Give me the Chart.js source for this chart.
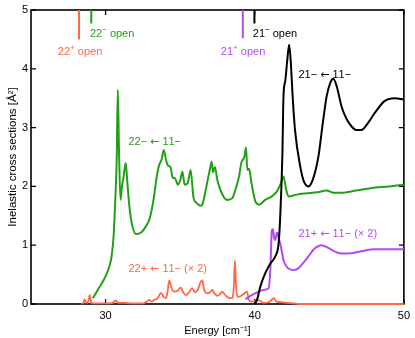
<!DOCTYPE html>
<html>
<head>
    <title>Inelastic cross sections</title>
    <style>
        body { margin: 0; background: #fff; }
        canvas { display: block; }
    </style>
    <script src="https://cdn.jsdelivr.net/npm/chart.js"></script>
</head>
<body>
<canvas id="xsChart" width="415" height="338"></canvas>
<script>
// energy axis ticks [cm^-1] and cross-section ticks [A^2]
const xTicks = [30, 40, 50];
const yTicks = [0, 1, 2, 3, 4, 5];

// 22- <- 11-
const e22m = [29.15, 29.5, 29.9, 30.2, 30.4, 30.55, 30.62, 30.68, 30.75, 30.82, 30.9, 31.0, 31.1, 31.2, 31.35, 31.45, 31.6, 31.8, 32.05, 32.4, 32.7, 32.95, 33.2, 33.45, 33.6, 33.75, 33.9, 34.05, 34.2, 34.35, 34.5, 34.65, 34.85, 35.0, 35.15, 35.3, 35.5, 35.7, 35.9, 36.1, 36.38, 36.5, 36.8, 37.0, 37.11, 37.2, 37.33, 37.5, 37.8, 38.15, 38.5, 38.7, 38.95, 39.1, 39.3, 39.42, 39.5, 39.62, 39.78, 40.05, 40.3, 40.7, 41.15, 41.5, 41.75, 41.93, 42.1, 42.27, 42.8, 43.4, 44.2, 44.8, 45.3, 45.8, 46.8, 47.8, 49.0, 50.0];
const s22m = [0.1, 0.25, 0.42, 0.6, 0.8, 1.2, 1.6, 1.95, 2.5, 3.64, 2.6, 1.77, 2.0, 2.15, 2.4, 2.1, 1.65, 1.32, 1.19, 1.22, 1.32, 1.45, 1.75, 2.2, 2.37, 2.45, 2.62, 2.45, 2.35, 2.33, 2.15, 2.14, 2.03, 2.1, 2.25, 2.03, 2.05, 2.28, 1.8, 1.72, 1.67, 1.7, 2.05, 2.3, 2.42, 2.24, 2.33, 2.1, 1.88, 1.77, 1.8, 1.94, 2.17, 2.4, 2.5, 2.66, 2.28, 2.3, 2.06, 1.74, 1.69, 1.77, 1.83, 1.92, 2.05, 2.17, 1.95, 1.83, 1.86, 1.88, 1.9, 1.93, 1.89, 1.89, 1.93, 1.97, 2.0, 2.03];

// 21- <- 11-
const e21m = [40.0, 40.15, 40.38, 40.7, 41.05, 41.38, 41.6, 41.71, 41.85, 41.93, 42.05, 42.2, 42.31, 42.42, 42.55, 42.7, 43.05, 43.3, 43.6, 43.9, 44.27, 44.55, 44.82, 45.05, 45.27, 45.5, 45.82, 46.15, 46.49, 46.8, 47.15, 47.6, 48.05, 48.7, 49.38, 50.0];
const s21m = [0, 0.07, 0.3, 0.52, 0.69, 0.81, 1.03, 1.49, 2.5, 3.55, 3.8, 4.2, 4.41, 4.1, 3.5, 2.96, 2.34, 2.08, 2.0, 2.12, 2.51, 3.05, 3.53, 3.75, 3.83, 3.7, 3.36, 3.15, 3.02, 2.96, 2.96, 3.08, 3.25, 3.45, 3.5, 3.48];

// 21+ <- 11- (x 2)
const e21p = [39.38, 39.8, 40.27, 40.6, 40.93, 41.05, 41.15, 41.22, 41.3, 41.38, 41.47, 41.53, 41.62, 41.71, 41.93, 42.15, 42.38, 42.65, 42.93, 43.25, 43.6, 44.0, 44.49, 44.9, 45.38, 45.8, 46.27, 47.0, 48.05, 49.0, 50.0];
const s21p = [0.08, 0.15, 0.21, 0.24, 0.27, 0.6, 1.26, 1.27, 1.12, 1.09, 1.2, 1.21, 1.1, 1.03, 0.75, 0.63, 0.59, 0.58, 0.61, 0.7, 0.81, 0.94, 1.0, 0.96, 0.89, 0.86, 0.86, 0.89, 0.93, 0.93, 0.93];

// 22+ <- 11- (x 2)
const e22p = [28.38, 28.5, 28.6, 28.7, 28.85, 28.93, 29.05, 29.4, 30.0, 30.5, 30.67, 30.85, 31.3, 31.8, 32.5, 32.75, 32.93, 33.1, 33.27, 33.5, 33.71, 33.9, 34.04, 34.15, 34.27, 34.45, 34.6, 34.8, 35.04, 35.2, 35.38, 35.6, 35.8, 36.0, 36.2, 36.38, 36.49, 36.6, 36.82, 37.0, 37.15, 37.3, 37.49, 37.65, 37.8, 38.0, 38.15, 38.35, 38.5, 38.6, 38.67, 38.75, 38.85, 39.1, 39.3, 39.49, 39.6, 39.8, 40.0, 40.3, 40.6, 40.9, 41.1, 41.27, 41.45, 41.8, 42.2, 42.6, 43.0, 44.0, 45.0, 50.0];
const s22p = [0, 0.02, 0.08, 0.02, 0.05, 0.15, 0.02, 0.01, 0.01, 0.02, 0.06, 0.02, 0.02, 0.01, 0.01, 0.04, 0.07, 0.04, 0.07, 0.1, 0.19, 0.12, 0.1, 0.2, 0.4, 0.25, 0.21, 0.22, 0.28, 0.2, 0.15, 0.2, 0.27, 0.2, 0.25, 0.38, 0.4, 0.25, 0.18, 0.2, 0.24, 0.18, 0.14, 0.16, 0.21, 0.16, 0.12, 0.1, 0.1, 0.3, 0.74, 0.3, 0.12, 0.14, 0.18, 0.21, 0.07, 0.04, 0.05, 0.06, 0.02, 0.03, 0.06, 0.1, 0.04, 0.03, 0.02, 0.01, 0, 0, 0, 0];

// channel thresholds ("open" markers): energy and lower end of the marker
const openE = [28.22, 29.04, 39.2, 39.98];
const openLow = [4.5, 4.77, 4.52, 4.77];

const GREEN = '#22a015', BLACK = '#000000', PURPLE = '#b548f2', ORANGE = '#ff6644';
const openColors = [ORANGE, GREEN, PURPLE, BLACK];

const pts = (xs, ys) => xs.map((x, i) => ({x: x, y: ys[i]}));

function curve(xs, ys, color, order, width) {
    return {
        data: pts(xs, ys), borderColor: color, borderWidth: width || 2,
        pointRadius: 0, showLine: true, fill: false,
        cubicInterpolationMode: 'monotone', clip: false, order: order
    };
}

const datasets = [
    curve(e21m, s21m, BLACK, 0),
    curve(e21p, s21p, PURPLE, 1),
    curve(e22m, s22m, GREEN, 2),
    curve(e22p, s22p, ORANGE, 3, 1.8)
];
openE.forEach((e, i) => {
    datasets.push({
        data: [{x: e, y: 5}, {x: e, y: openLow[i]}],
        borderColor: openColors[i], borderWidth: 2, pointRadius: 0,
        showLine: true, clip: false, order: 4
    });
});

// text annotations, placed in data coordinates (left edge, vertical centre)
// "^x" marks a one-character superscript
const notes = [
    {e: 28.95, v: 4.6, t: '22^\u2212 open', c: GREEN},
    {e: 26.8, v: 4.29, t: '22^+ open', c: ORANGE},
    {e: 37.73, v: 4.29, t: '21^+ open', c: PURPLE},
    {e: 39.87, v: 4.6, t: '21^\u2212 open', c: BLACK},
    {e: 42.93, v: 3.9, t: '21\u2212 \u2190 11\u2212', c: BLACK},
    {e: 31.53, v: 2.75, t: '22\u2212 \u2190 11\u2212', c: GREEN},
    {e: 31.53, v: 0.59, t: '22+ \u2190 11\u2212 (\u00D7 2)', c: ORANGE},
    {e: 42.93, v: 1.19, t: '21+ \u2190 11\u2212 (\u00D7 2)', c: PURPLE}
];

const FONT = '"Liberation Sans", Arial, Helvetica, sans-serif';

// draw a label piece by piece: superscripts smaller and raised, arrow from DejaVu
function drawRich(ctx, text, x, y) {
    let i = 0;
    while (i < text.length) {
        let ch = text[i], font = '11px ' + FONT, dy = 0;
        if (ch === '^') {
            ch = text[i + 1]; i++;
            font = '8px ' + FONT; dy = -4;
        } else if (ch === '\u2190') {
            font = '11px "DejaVu Sans"';
        }
        ctx.font = font;
        ctx.fillText(ch, x, y + dy);
        x += ctx.measureText(ch).width;
        i++;
    }
}

const framePlugin = {
    id: 'frame',
    beforeDatasetsDraw(chart) {
        const {ctx, chartArea: a, scales: {x, y}} = chart;
        ctx.save();
        ctx.strokeStyle = '#000';
        ctx.lineWidth = 1.6;
        ctx.strokeRect(a.left, a.top, a.right - a.left, a.bottom - a.top);
        ctx.lineWidth = 1.3;
        ctx.beginPath();
        xTicks.forEach(v => {
            const px = x.getPixelForValue(v);
            ctx.moveTo(px, a.bottom); ctx.lineTo(px, a.bottom - 5);
            ctx.moveTo(px, a.top); ctx.lineTo(px, a.top + 5);
        });
        yTicks.forEach(v => {
            const py = y.getPixelForValue(v);
            ctx.moveTo(a.left, py); ctx.lineTo(a.left + 5, py);
            ctx.moveTo(a.right, py); ctx.lineTo(a.right - 5, py);
        });
        ctx.stroke();
        ctx.restore();
    },
    afterDatasetsDraw(chart) {
        const {ctx, scales: {x, y}} = chart;
        ctx.save();
        ctx.textAlign = 'left';
        ctx.textBaseline = 'middle';
        notes.forEach(n => {
            ctx.fillStyle = n.c;
            drawRich(ctx, n.t, x.getPixelForValue(n.e), y.getPixelForValue(n.v));
        });
        ctx.restore();
    }
};

new Chart(document.getElementById('xsChart').getContext('2d'), {
    type: 'scatter',
    data: {datasets: datasets},
    options: {
        responsive: false,
        animation: false,
        devicePixelRatio: 1,
        layout: {padding: {top: 10, right: 10, left: 0, bottom: 0}},
        plugins: {legend: {display: false}, tooltip: {enabled: false}},
        scales: {
            x: {
                type: 'linear', min: 25, max: 50,
                afterBuildTicks: s => { s.ticks = xTicks.map(v => ({value: v})); },
                afterFit: s => { s.height = 34; },
                grid: {display: false, drawTicks: false},
                border: {display: false},
                ticks: {color: '#000', padding: 5, font: {size: 11, family: FONT}},
                title: {display: true, text: 'Energy [cm\u207B\u00B9]', color: '#000',
                        padding: {top: 2, bottom: 0}, font: {size: 11, family: FONT}}
            },
            y: {
                type: 'linear', min: 0, max: 5,
                afterBuildTicks: s => { s.ticks = yTicks.map(v => ({value: v})); },
                afterFit: s => { s.width = 31; },
                grid: {display: false, drawTicks: false},
                border: {display: false},
                ticks: {color: '#000', padding: 3, font: {size: 11, family: FONT}},
                title: {display: true, text: 'Inelastic cross sections [\u00C5\u00B2]', color: '#000',
                        padding: {top: 6, bottom: 0}, font: {size: 11.5, family: FONT}}
            }
        }
    },
    plugins: [framePlugin]
});
</script>
</body>
</html>
